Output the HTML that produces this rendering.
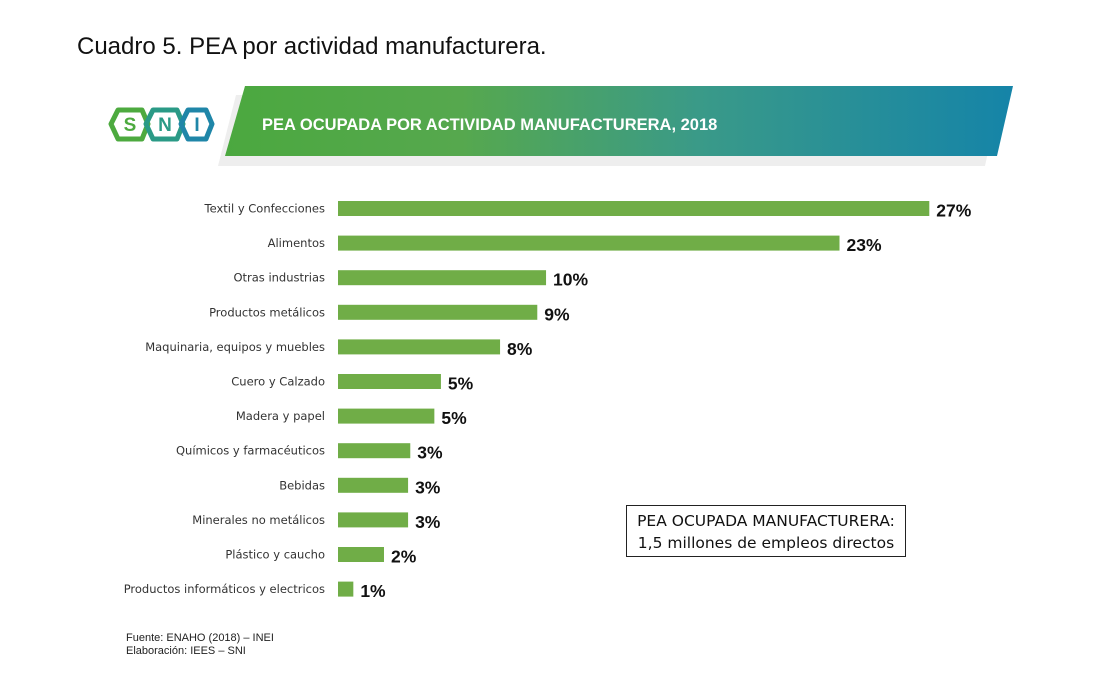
<!DOCTYPE html>
<html><head><meta charset="utf-8">
<style>
body{margin:0;width:1103px;height:697px;background:#fff;overflow:hidden;font-family:"Liberation Sans",sans-serif;position:relative}
#title{position:absolute;left:77px;top:33px;font-size:24px;color:#111;font-family:"Liberation Sans",sans-serif;font-weight:normal}
.box{position:absolute;left:626px;top:505px;width:280px;height:52px;border:1px solid #222;font-size:15.5px;text-align:center;line-height:22px;padding-top:4px;box-sizing:border-box;color:#111;font-family:"DejaVu Sans",sans-serif}
.src{position:absolute;left:126px;font-size:11px;color:#222}
</style></head><body>
<div id="title">Cuadro 5. PEA por actividad manufacturera.</div>
<svg width="1103" height="697" style="position:absolute;left:0;top:0">
<defs><linearGradient id="g" x1="0" x2="1"><stop offset="0" stop-color="#4ba83f"/><stop offset="0.3" stop-color="#56a84e"/><stop offset="0.6" stop-color="#3a9a88"/><stop offset="1" stop-color="#1584a8"/></linearGradient></defs>
<polygon points="236,95 1000,95 985,166 218,166" fill="#eeeeee"/>
<polygon points="245,86 1013,86 997,156 225,156" fill="url(#g)"/>
<text x="262" y="130" fill="#fff" font-size="16.5" font-weight="bold">PEA OCUPADA POR ACTIVIDAD MANUFACTURERA, 2018</text>
<g font-weight="bold" font-size="19" text-anchor="middle">
<polygon points="118,110 142,110 148,124 142,139 118,139 111,124" fill="none" stroke="#4daa3f" stroke-width="5" stroke-linejoin="round"/>
<text x="130" y="131" fill="#4daa3f">S</text>
<polygon points="153,110 177,110 183,124 177,139 153,139 146,124" fill="none" stroke="#2a9a86" stroke-width="5" stroke-linejoin="round"/>
<text x="165" y="131" fill="#2a9a86">N</text>
<polygon points="188,110 206,110 212,124 206,139 188,139 181,124" fill="none" stroke="#1f86a8" stroke-width="5" stroke-linejoin="round"/>
<text x="197" y="131" fill="#1f86a8">I</text>
</g>
<g id="bars"></g>
</svg>
<div class="box">PEA OCUPADA MANUFACTURERA:<br>1,5 millones de empleos directos</div>
<div class="src" style="top:632px">Fuente: ENAHO (2018) – INEI</div>
<div class="src" style="top:645px">Elaboración: IEES – SNI</div>
<script>
const categories=["Textil y Confecciones","Alimentos","Otras industrias","Productos metálicos","Maquinaria, equipos y muebles","Cuero y Calzado","Madera y papel","Químicos y farmacéuticos","Bebidas","Minerales no metálicos","Plástico y caucho","Productos informáticos y electricos"];
const values=[27.0,22.9,9.5,9.1,7.4,4.7,4.4,3.3,3.2,3.2,2.1,0.7];
const labels=["27%","23%","10%","9%","8%","5%","5%","3%","3%","3%","2%","1%"];
const x0=338,scale=21.9,y0=208.5,step=34.6,bh=15;
const xs=v=>x0+v*scale, ys=i=>y0+i*step;
const g=document.getElementById('bars');
const ns="http://www.w3.org/2000/svg";
categories.forEach((c,i)=>{
 const r=document.createElementNS(ns,'rect');
 
 
 r.setAttribute('x',x0);r.setAttribute('y',ys(i)-bh/2);r.setAttribute('width',xs(values[i])-x0);r.setAttribute('height',bh);r.setAttribute('fill','#70ad47');
 g.appendChild(r);
 const t=document.createElementNS(ns,'text');
 
 
 t.setAttribute('x',325);t.setAttribute('y',ys(i)+4);t.setAttribute('text-anchor','end');t.setAttribute('font-size','11.5');t.setAttribute('fill','#333');t.setAttribute('font-family','DejaVu Sans, sans-serif');
 t.textContent=c;g.appendChild(t);
 const l=document.createElementNS(ns,'text');
 
 
 l.setAttribute('x',xs(values[i])+7);l.setAttribute('y',ys(i)+8);l.setAttribute('font-size','17.5');l.setAttribute('font-weight','bold');l.setAttribute('fill','#111');
 l.textContent=labels[i];g.appendChild(l);
});
</script>
</body></html>
